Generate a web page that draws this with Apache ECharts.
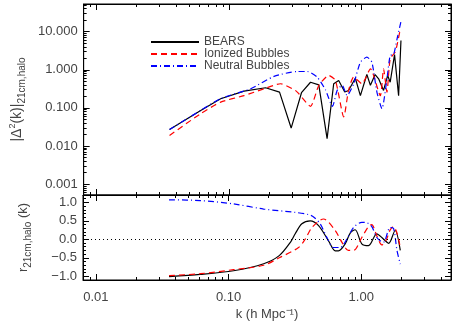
<!DOCTYPE html>
<html>
<head>
<meta charset="utf-8">
<script src="https://cdn.jsdelivr.net/npm/echarts@6/dist/echarts.min.js"></script>
<style>
  html, body { margin: 0; padding: 0; background: #fff; }
  #chart { width: 458px; height: 327px; }
</style>
</head>
<body>
<div id="chart"></div>
<script>
// top panel: |Delta^2(k)| vs k
var kBearsTop = [0.0356, 0.0612, 0.0866, 0.13, 0.189, 0.241, 0.295, 0.353, 0.413, 0.477, 0.551, 0.618, 0.674, 0.749, 0.80, 0.90, 0.983, 1.10, 1.17, 1.27, 1.35, 1.47, 1.58, 1.65, 1.78, 1.91, 1.99];
var pBears    = [0.027, 0.086, 0.174, 0.275, 0.338, 0.26, 0.0296, 0.25, 0.47, 0.40, 0.0156, 0.43, 0.525, 0.26, 0.287, 0.60, 0.21, 0.75, 0.39, 0.75, 0.58, 0.287, 0.71, 0.47, 2.5, 0.21, 5.85];

var kIonTop = [0.0356, 0.0612, 0.0866, 0.13, 0.184, 0.245, 0.318, 0.337, 0.413, 0.477, 0.567, 0.637, 0.736, 0.80, 0.875, 1.01, 1.17, 1.39, 1.47, 1.56, 1.65, 1.80, 1.88, 1.97];
var pIon    = [0.019, 0.0705, 0.142, 0.21, 0.318, 0.43, 0.287, 0.235, 0.11, 0.388, 0.71, 0.525, 0.058, 0.287, 0.64, 0.43, 1.06, 0.21, 1.06, 0.26, 1.94, 2.9, 5.3, 12];

var kNeuTop = [0.0356, 0.0612, 0.0866, 0.146, 0.219, 0.328, 0.39, 0.464, 0.535, 0.605, 0.656, 0.716, 0.78, 0.875, 0.983, 1.10, 1.2, 1.31, 1.43, 1.56, 1.65, 1.75, 1.86, 1.99];
var pNeu    = [0.027, 0.086, 0.175, 0.318, 0.67, 0.9, 0.9, 0.64, 0.3, 0.11, 0.287, 0.39, 0.21, 0.43, 1.58, 2.14, 1.58, 0.26, 0.095, 0.58, 2.37, 2.5, 6.5, 18.4];

// bottom panel: r(k)
var kBearsBot = [0.0356, 0.0612, 0.109, 0.184, 0.241, 0.295, 0.318, 0.357, 0.413, 0.477, 0.567, 0.637, 0.674, 0.758, 0.826, 0.90, 1.01, 1.135, 1.31, 1.47, 1.61, 1.80, 1.97];
var rBears    = [-1.01, -0.95, -0.85, -0.66, -0.44, -0.06, 0.15, 0.42, 0.5, 0.37, -0.04, -0.31, -0.31, -0.12, 0.17, 0.26, -0.12, -0.17, 0.15, 0.01, -0.11, 0.24, -0.3];

var kIonBot = [0.0356, 0.0612, 0.109, 0.184, 0.241, 0.337, 0.379, 0.425, 0.52, 0.637, 0.716, 0.80, 0.875, 1.01, 1.135, 1.2, 1.31, 1.43, 1.55, 1.65, 1.74, 1.85, 1.97];
var rIon    = [-0.98, -0.93, -0.82, -0.7, -0.5, -0.22, 0.01, 0.32, 0.55, 0.24, -0.08, -0.3, -0.3, 0.05, 0.35, 0.4, 0.1, -0.15, 0.0, 0.25, 0.34, 0.2, -0.22];

var kNeuBot = [0.0356, 0.0612, 0.109, 0.184, 0.318, 0.401, 0.44, 0.491, 0.551, 0.618, 0.695, 0.78, 0.875, 1.01, 1.1, 1.2, 1.31, 1.47, 1.65, 1.75, 1.86, 1.97];
var rNeu    = [1.07, 1.05, 0.96, 0.82, 0.73, 0.67, 0.6, 0.42, 0.05, -0.22, -0.22, 0.01, 0.32, 0.46, 0.45, 0.35, 0.05, -0.08, 0.32, 0.3, -0.3, -0.67];

var names = ['BEARS', 'Ionized Bubbles', 'Neutral Bubbles'];

function pairs(xs, ys) {
    var out = [];
    for (var i = 0; i < xs.length; i++) out.push([xs[i], ys[i]]);
    return out;
}
function isPow10(v) {
    var l = Math.log10(v);
    return Math.abs(l - Math.round(l)) < 1e-6;
}

var font = 'Liberation Sans';
var txt = '#444';

var chart = echarts.init(document.getElementById('chart'));

var tickIn = { show: true, inside: true, length: 6, lineStyle: { color: '#000' } };
var lineAx = { show: true, onZero: false, lineStyle: { color: '#000', width: 1 } };
var logMinor = { show: true, splitNumber: 9, length: 3, lineStyle: { color: '#000' } };

function xAx(grid, pos, labels) {
    return {
        type: 'log', gridIndex: grid, position: pos, min: 0.008, max: 4.75, splitNumber: 3,
        axisLine: lineAx, axisTick: tickIn, minorTick: logMinor, splitLine: { show: false },
        axisLabel: {
            show: labels, margin: 11, color: txt, fontFamily: font, fontSize: 13,
            formatter: function (v) { return isPow10(v) ? v.toFixed(2) : ''; }
        }
    };
}

var option = {
    animation: false,
    backgroundColor: '#fff',
    grid: [
        { left: 83, right: 7, top: 4, height: 191, show: true, borderColor: '#000', borderWidth: 1 },
        { left: 83, right: 7, top: 195, height: 85, show: true, borderColor: '#000', borderWidth: 1 }
    ],
    legend: {
        orient: 'vertical', left: 145, top: 31, itemWidth: 48, itemHeight: 8, itemGap: 0,
        data: names,
        itemStyle: { opacity: 0 },
        textStyle: { color: txt, fontFamily: font, fontSize: 12, lineHeight: 12, padding: [0, 0, 0, 0] }
    },
    xAxis: [
        xAx(0, 'bottom', false),
        xAx(0, 'top', false),
        Object.assign(xAx(1, 'bottom', true), {
            name: 'k (h Mpc\u207B\u00B9)', nameLocation: 'middle', nameGap: 28,
            nameTextStyle: { color: txt, fontFamily: font, fontSize: 13 }
        }),
        xAx(1, 'top', false)
    ],
    yAxis: [
        {
            type: 'log', gridIndex: 0, min: 0.00052, max: 53, splitNumber: 5,
            axisLine: lineAx, axisTick: tickIn, minorTick: logMinor, splitLine: { show: false },
            axisLabel: {
                margin: 6, color: txt, fontFamily: font, fontSize: 13,
                formatter: function (v) { return isPow10(v) ? v.toFixed(3) : ''; }
            },
            name: '{a||\u0394}{sup|2}{a|(k)|}{sub|21cm,halo}', nameLocation: 'middle', nameGap: 50, nameRotate: 90,
            nameTextStyle: {
                color: txt, fontFamily: font,
                rich: {
                    a: { fontSize: 14, color: txt, fontFamily: font },
                    sup: { fontSize: 9, color: txt, fontFamily: font, padding: [0, 0, 9, 0] },
                    sub: { fontSize: 10, color: txt, fontFamily: font, padding: [10, 0, 0, 0] }
                }
            }
        },
        {
            type: 'log', gridIndex: 0, position: 'right', min: 0.00052, max: 53, splitNumber: 5,
            axisLine: lineAx, axisTick: tickIn, minorTick: logMinor, axisLabel: { show: false }, splitLine: { show: false }
        },
        {
            type: 'value', gridIndex: 1, min: -1.1, max: 1.2, splitNumber: 5,
            axisLine: lineAx, axisTick: tickIn, splitLine: { show: false },
            minorTick: { show: true, splitNumber: 5, length: 3, lineStyle: { color: '#000' } },
            axisLabel: {
                margin: 6, color: txt, fontFamily: font, fontSize: 13, showMinLabel: false, showMaxLabel: false,
                formatter: function (v) { return v.toFixed(1).replace('-', '\u2212'); }
            },
            name: '{a|r}{sub|21cm,halo}{a| (k)}', nameLocation: 'middle', nameGap: 50, nameRotate: 90,
            nameTextStyle: {
                color: txt, fontFamily: font,
                rich: {
                    a: { fontSize: 13, color: txt, fontFamily: font },
                    sub: { fontSize: 10, color: txt, fontFamily: font, padding: [10, 0, 0, 0] }
                }
            }
        },
        {
            type: 'value', gridIndex: 1, position: 'right', min: -1.1, max: 1.2, splitNumber: 5,
            axisLine: lineAx, axisTick: tickIn, axisLabel: { show: false }, splitLine: { show: false },
            minorTick: { show: true, splitNumber: 5, length: 3, lineStyle: { color: '#000' } }
        }
    ],
    series: [
        {
            name: names[0], type: 'line', xAxisIndex: 0, yAxisIndex: 0, symbol: 'none',
            data: pairs(kBearsTop, pBears),
            lineStyle: { color: '#000', width: 1.2 }, itemStyle: { color: '#000' }
        },
        {
            name: names[1], type: 'line', xAxisIndex: 0, yAxisIndex: 0, symbol: 'none', smooth: 0.2,
            data: pairs(kIonTop, pIon),
            lineStyle: { color: '#ff0000', width: 1.2, type: [6, 4] }, itemStyle: { color: '#ff0000' }
        },
        {
            name: names[2], type: 'line', xAxisIndex: 0, yAxisIndex: 0, symbol: 'none', smooth: 0.2,
            data: pairs(kNeuTop, pNeu),
            lineStyle: { color: '#0000ff', width: 1.2, type: [6, 3, 1, 3] }, itemStyle: { color: '#0000ff' }
        },
        {
            name: names[0], type: 'line', xAxisIndex: 2, yAxisIndex: 2, symbol: 'none', smooth: 0.3,
            data: pairs(kBearsBot, rBears),
            lineStyle: { color: '#000', width: 1.2 }, itemStyle: { color: '#000' },
            markLine: {
                silent: true, symbol: 'none', label: { show: false },
                lineStyle: { color: '#000', width: 1, type: [1, 3] },
                data: [{ yAxis: 0 }]
            }
        },
        {
            name: names[1], type: 'line', xAxisIndex: 2, yAxisIndex: 2, symbol: 'none', smooth: 0.3,
            data: pairs(kIonBot, rIon),
            lineStyle: { color: '#ff0000', width: 1.2, type: [6, 4] }, itemStyle: { color: '#ff0000' }
        },
        {
            name: names[2], type: 'line', xAxisIndex: 2, yAxisIndex: 2, symbol: 'none', smooth: 0.3,
            data: pairs(kNeuBot, rNeu),
            lineStyle: { color: '#0000ff', width: 1.2, type: [6, 3, 1, 3] }, itemStyle: { color: '#0000ff' }
        }
    ]
};

chart.setOption(option);
</script>
</body>
</html>
